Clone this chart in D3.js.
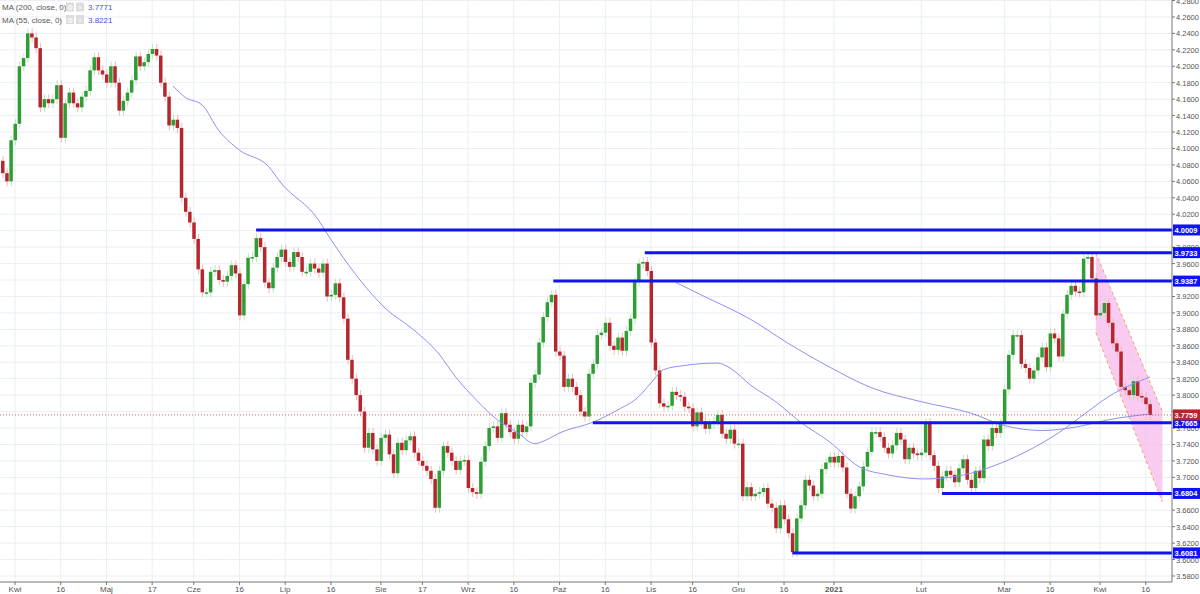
<!DOCTYPE html>
<html>
<head>
<meta charset="utf-8">
<script src="https://cdn.jsdelivr.net/npm/d3@7"></script>
<style>
  body { margin: 0; background: #fff; }
  svg { display: block; font-family: "Liberation Sans", Arial, sans-serif; }
</style>
</head>
<body>
<svg id="chart" width="1200" height="594"></svg>
<script>
// daily closes, Mar 27 2020 .. Apr 19 2021 (weekdays)
const closesPre = [4.07, 4.06, 4.11];
const closesApr20 = [4.13, 4.20, 4.21, 4.24, 4.235, 4.222, 4.15, 4.16, 4.155, 4.16, 4.177, 4.113, 4.155, 4.168, 4.155, 4.15, 4.163, 4.17, 4.195, 4.211, 4.195, 4.19];
const closesMay = [4.18, 4.20, 4.18, 4.146, 4.158, 4.168, 4.183, 4.212, 4.200, 4.205, 4.215, 4.221, 4.213, 4.18, 4.163, 4.128, 4.135, 4.125, 4.04, 4.023, 4.01];
const closesJun = [3.99, 3.953, 3.925, 3.925, 3.95, 3.952, 3.94, 3.938, 3.945, 3.958, 3.948, 3.897, 3.935, 3.967, 3.968, 3.991, 3.98, 3.937, 3.93, 3.955, 3.968, 3.977];
const closesJul = [3.962, 3.956, 3.974, 3.968, 3.95, 3.95, 3.96, 3.954, 3.949, 3.96, 3.92, 3.922, 3.936, 3.919, 3.893, 3.843, 3.82, 3.80, 3.78, 3.736, 3.754, 3.734, 3.72];
const closesAug = [3.748, 3.752, 3.728, 3.705, 3.742, 3.733, 3.745, 3.75, 3.73, 3.72, 3.714, 3.708, 3.698, 3.663, 3.708, 3.738, 3.73, 3.72, 3.709, 3.72, 3.721];
const closesSep = [3.687, 3.682, 3.68, 3.719, 3.738, 3.76, 3.762, 3.748, 3.778, 3.764, 3.755, 3.747, 3.764, 3.755, 3.762, 3.815, 3.825, 3.864, 3.895, 3.913, 3.922, 3.853];
const closesOct = [3.848, 3.81, 3.82, 3.81, 3.80, 3.78, 3.774, 3.826, 3.838, 3.873, 3.876, 3.888, 3.86, 3.855, 3.87, 3.854, 3.878, 3.893, 3.938, 3.96, 3.962, 3.951];
const closesNov = [3.864, 3.83, 3.79, 3.786, 3.787, 3.804, 3.80, 3.798, 3.786, 3.784, 3.762, 3.779, 3.768, 3.759, 3.765, 3.768, 3.776, 3.753, 3.747, 3.758, 3.741];
const closesDec = [3.741, 3.677, 3.688, 3.677, 3.68, 3.682, 3.687, 3.668, 3.663, 3.638, 3.666, 3.649, 3.632, 3.609, 3.65, 3.666, 3.697, 3.69, 3.677, 3.68, 3.71, 3.718, 3.725];
const closesJan21 = [3.718, 3.726, 3.712, 3.68, 3.662, 3.677, 3.689, 3.713, 3.731, 3.755, 3.755, 3.749, 3.736, 3.729, 3.739, 3.754, 3.746, 3.722, 3.736, 3.729, 3.727];
const closesFeb21 = [3.73, 3.766, 3.727, 3.714, 3.687, 3.701, 3.708, 3.703, 3.694, 3.711, 3.722, 3.697, 3.687, 3.708, 3.699, 3.746, 3.738, 3.76, 3.754, 3.765];
const closesMar21 = [3.807, 3.849, 3.873, 3.873, 3.838, 3.833, 3.82, 3.83, 3.846, 3.858, 3.834, 3.875, 3.869, 3.847, 3.899, 3.922, 3.933, 3.926, 3.925, 3.966, 3.968, 3.942, 3.897];
const closesApr21 = [3.90, 3.912, 3.888, 3.863, 3.853, 3.81, 3.806, 3.80, 3.817, 3.799, 3.797, 3.789, 3.7759];

// moving averages: [bar index from Apr 1 2020, value]
const ma55 = [[38,4.176],[41,4.162],[45,4.153],[49,4.122],[54,4.098],[61,4.078],[64,4.058],[73,4.013],[75,3.997],[83,3.94],[89,3.906],[96,3.879],[102,3.85],[106,3.822],[111,3.794],[116,3.77],[121,3.754],[125,3.741],[128,3.746],[131,3.754],[139,3.767],[145,3.782],[150,3.798],[153,3.815],[156,3.831],[161,3.836],[169,3.839],[172,3.833],[177,3.812],[183,3.792],[189,3.767],[196,3.743],[203,3.713],[210,3.703],[219,3.698],[230,3.705],[237,3.717],[245,3.736],[251,3.754],[257,3.776],[263,3.798],[273,3.8221]];
const ma200 = [[159,3.937],[165,3.922],[177,3.892],[186,3.863],[196,3.834],[206,3.809],[218,3.792],[230,3.778],[238,3.763],[247,3.757],[255,3.761],[263,3.770],[273,3.7771]];

// horizontal levels: [price, start bar index]
const levels = [[4.0009, 58], [3.9733, 151.5], [3.9387, 129.5], [3.7665, 139], [3.6804, 223], [3.6081, 187]];
const lastPrice = 3.7759;

// falling channel: [bar index, price]
const channel = [[260, 3.973], [276, 3.780], [276, 3.670], [260, 3.876]];

const tickDates = ["2020-04-01","2020-04-16","2020-05-01","2020-05-17","2020-06-01","2020-06-16","2020-07-01","2020-07-16","2020-08-01","2020-08-17","2020-09-01","2020-09-16","2020-10-01","2020-10-16","2020-11-01","2020-11-16","2020-12-01","2020-12-16","2021-01-01","2021-02-01","2021-03-01","2021-03-16","2021-04-01","2021-04-16"];
const tickLabels = ["Kwi","16","Maj","17","Cze","16","Lip","16","Sie","17","Wrz","16","Paź","16","Lis","16","Gru","16","2021","Lut","Mar","16","Kwi","16"];
const priceTicks = d3.range(3.58, 4.2801, 0.02);

const closes = [].concat(closesPre, closesApr20, closesMay, closesJun, closesJul, closesAug, closesSep, closesOct, closesNov, closesDec, closesJan21, closesFeb21, closesMar21, closesApr21);

// weekday calendar
const dates = [];
let d = new Date(2020, 2, 27);
while (dates.length < closes.length) {
  if (d.getDay() !== 0 && d.getDay() !== 6) dates.push(new Date(d));
  d.setDate(d.getDate() + 1);
}
const offset = 3; // bars before Apr 1 2020
const bars = closes.map((c, i) => {
  const o = i === 0 ? 4.085 : closes[i - 1];
  return { i: i - offset, o: o, c: c, h: Math.max(o, c) + 0.006, l: Math.min(o, c) - 0.006 };
});

function indexOfDate(s) {
  const t = new Date(s + "T00:00:00");
  const k = dates.findIndex((dd) => dd >= t);
  return k - offset;
}

const W = 1200, H = 594, right = 1172, bottom = 582;
const svg = d3.select("#chart");
const x = d3.scaleLinear().domain([0, 261]).range([15, 1100]);
const y = d3.scaleLinear().domain([3.58, 4.28]).range([576, 0.5]);

// grid
svg.append("g").selectAll("line").data(priceTicks).enter().append("line")
  .attr("x1", 0).attr("x2", right).attr("y1", (v) => y(v)).attr("y2", (v) => y(v))
  .attr("stroke", "#e9eff5");
svg.append("g").selectAll("line").data(tickDates).enter().append("line")
  .attr("x1", (s) => x(indexOfDate(s))).attr("x2", (s) => x(indexOfDate(s)))
  .attr("y1", 0).attr("y2", bottom).attr("stroke", "#e9eff5");

// channel
svg.append("path")
  .attr("d", d3.line().x((p) => x(p[0])).y((p) => y(p[1]))(channel) + "Z")
  .attr("fill", "#f7b9ec").attr("fill-opacity", 0.75);
[[channel[0], channel[1]], [channel[3], channel[2]]].forEach((seg) => {
  svg.append("line")
    .attr("x1", x(seg[0][0])).attr("y1", y(seg[0][1]))
    .attr("x2", x(seg[1][0])).attr("y2", y(seg[1][1]))
    .attr("stroke", "#f5a15a").attr("stroke-dasharray", "3,3");
});

// candles
const green = "#2e9e34", red = "#b5272d";
const cg = svg.append("g");
cg.selectAll("line").data(bars).enter().append("line")
  .attr("x1", (b) => x(b.i) + 0.5).attr("x2", (b) => x(b.i) + 0.5)
  .attr("y1", (b) => y(b.h)).attr("y2", (b) => y(b.l))
  .attr("stroke", (b) => (b.c >= b.o ? "#bfe3c0" : "#f4b5b5"));
cg.selectAll("rect").data(bars).enter().append("rect")
  .attr("x", (b) => x(b.i) - 1.5)
  .attr("width", 3.5)
  .attr("y", (b) => y(Math.max(b.o, b.c)))
  .attr("height", (b) => Math.max(1.5, Math.abs(y(b.o) - y(b.c))))
  .attr("fill", (b) => (b.c >= b.o ? green : red));

// moving averages
const maLine = d3.line().curve(d3.curveMonotoneX).x((p) => x(p[0])).y((p) => y(p[1]));
[ma55, ma200].forEach((m) => {
  svg.append("path").attr("d", maLine(m)).attr("fill", "none")
    .attr("stroke", "#8f8ff5").attr("stroke-width", 1);
});

// last price line
svg.append("line").attr("x1", 0).attr("x2", right)
  .attr("y1", y(lastPrice)).attr("y2", y(lastPrice))
  .attr("stroke", "#c0392b").attr("stroke-dasharray", "1,2").attr("stroke-width", 0.8);

// horizontal levels
levels.forEach((lv) => {
  svg.append("line").attr("x1", x(lv[1])).attr("x2", right)
    .attr("y1", y(lv[0])).attr("y2", y(lv[0]))
    .attr("stroke", "#0f14f0").attr("stroke-width", 3);
});

// axes
svg.append("line").attr("x1", right).attr("x2", right).attr("y1", 0).attr("y2", bottom).attr("stroke", "#777");
svg.append("line").attr("x1", 0).attr("x2", right).attr("y1", bottom).attr("y2", bottom).attr("stroke", "#777");
svg.append("g").selectAll("text").data(priceTicks).enter().append("text")
  .attr("x", 1176).attr("y", (v) => y(v) + 3).attr("font-size", 7.5).attr("fill", "#555")
  .text((v) => v.toFixed(4));
svg.append("g").selectAll("line").data(priceTicks).enter().append("line")
  .attr("x1", right).attr("x2", right + 3).attr("y1", (v) => y(v)).attr("y2", (v) => y(v)).attr("stroke", "#777");
svg.append("g").selectAll("text").data(tickDates).enter().append("text")
  .attr("x", (s) => x(indexOfDate(s))).attr("y", 592).attr("text-anchor", "middle")
  .attr("font-size", 8).attr("fill", "#555")
  .attr("font-weight", (s, i) => (tickLabels[i] === "2021" ? "bold" : "normal"))
  .text((s, i) => tickLabels[i]);
svg.append("g").selectAll("line").data(tickDates).enter().append("line")
  .attr("x1", (s) => x(indexOfDate(s))).attr("x2", (s) => x(indexOfDate(s)))
  .attr("y1", bottom).attr("y2", bottom + 3).attr("stroke", "#777");

// price labels
function priceTag(v, color) {
  svg.append("rect").attr("x", right + 1).attr("y", y(v) - 5.5).attr("width", W - right).attr("height", 11).attr("fill", color);
  svg.append("text").attr("x", right + 2.5).attr("y", y(v) + 3).attr("font-size", 7.5)
    .attr("font-weight", "bold").attr("fill", "#fff").text(v.toFixed(4));
}
levels.forEach((lv) => priceTag(lv[0], "#0f14f0"));
priceTag(lastPrice, "#b5272d");

// legend
const legend = [["MA (200, close, 0)", ma200[ma200.length - 1][1]], ["MA (55, close, 0)", ma55[ma55.length - 1][1]]];
legend.forEach((row, k) => {
  const ly = 10 + k * 12.5;
  svg.append("text").attr("x", 2).attr("y", ly).attr("font-size", 8).attr("fill", "#555").text(row[0]);
  [66, 76].forEach((bx, j) => {
    svg.append("rect").attr("x", bx).attr("y", ly - 7.5).attr("width", 8).attr("height", 9).attr("fill", "#ddd");
    svg.append("text").attr("x", bx + 4).attr("y", ly).attr("text-anchor", "middle").attr("font-size", 7).attr("fill", "#fff").text(j ? "×" : "⚙");
  });
  svg.append("text").attr("x", 88).attr("y", ly).attr("font-size", 8).attr("fill", "#4b4bf0").text(row[1].toFixed(4));
});
</script>
</body>
</html>
